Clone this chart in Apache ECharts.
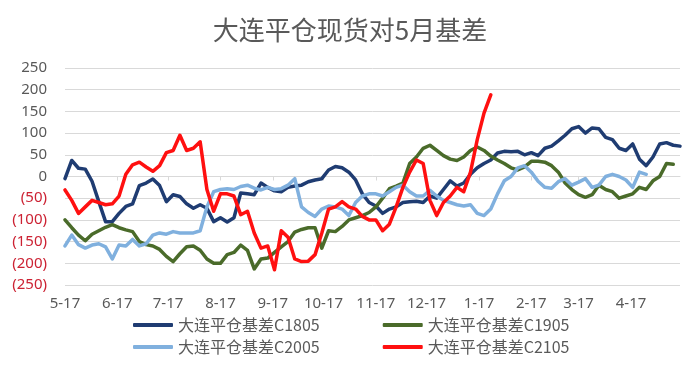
<!DOCTYPE html>
<html>
<head>
<meta charset="utf-8">
<script src="https://cdn.jsdelivr.net/npm/echarts@6/dist/echarts.min.js"></script>
<style>html,body{margin:0;padding:0;background:#fff;}#chart{width:700px;height:368px;}</style>
</head>
<body>
<div id="chart"></div>
<script>
// x grid: one reading every 4 days from 5-17 (x axis counts days since 5-17)
const stepDays = 4;
const axisDays = 364;
const xTickLabels = ['5-17','6-17','7-17','8-17','9-17','10-17','11-17','12-17','1-17','2-17','3-17','4-17'];
const seriesNames = ['大连平仓基差C1805','大连平仓基差C1905','大连平仓基差C2005','大连平仓基差C2105'];

const c1805 = [-5,37,19,17,-11,-58,-104,-104,-85,-69,-63,-21,-15,-6,-21,-58,-42,-46,-63,-73,-65,-73,-104,-95,
  -105,-95,-38,-40,-42,-15,-25,-33,-35,-25,-22,-20,-12,-8,-5,15,23,20,10,-8,-40,-60,-68,
  -85,-75,-70,-60,-58,-57,-60,-45,-50,-30,-10,-22,-15,5,20,30,38,54,58,57,58,50,55,
  48,65,70,82,95,110,115,100,112,110,90,85,65,60,75,40,25,45,75,78,72,70];
const c1905 = [-100,-118,-135,-148,-133,-125,-117,-111,-118,-123,-127,-150,-157,-160,-168,-184,-196,-178,-162,-160,-170,-190,-200,
  -200,-180,-175,-158,-170,-213,-190,-188,-175,-162,-150,-128,-122,-118,-118,-165,-125,-127,-115,-100,-95,-90,-83,
  -70,-50,-28,-22,-15,30,45,65,72,60,48,40,37,45,60,68,60,47,38,30,20,15,22,
  35,35,33,25,10,-15,-30,-42,-48,-42,-20,-30,-35,-50,-45,-40,-25,-30,-10,0,30,28,null];
const c2005 = [-160,-135,-157,-165,-158,-155,-162,-190,-158,-160,-145,-160,-155,-135,-130,-133,-127,-130,-130,-130,-125,-70,-35,
  -30,-28,-30,-23,-20,-27,-31,-25,-30,-28,-20,-5,-70,-83,-92,-75,-68,-70,-75,-90,-60,-45,-40,
  -40,-45,-35,-25,-20,-35,-45,-45,-32,-45,-55,-60,-65,-68,-65,-85,-90,-75,-40,-10,0,20,25,
  10,-11,-25,-27,-12,-5,-20,-13,-5,-25,-20,0,5,0,-8,-25,10,5,null,null,null,null,null];
const c2105 = [-31,-55,-85,-70,-55,-60,-65,-63,-45,5,27,33,22,12,25,55,60,95,60,65,80,-30,-80,
  -40,-40,-45,-88,-80,-130,-165,-160,-215,-125,-140,-190,-196,-195,-180,-130,-75,-70,-58,-70,-75,-92,-100,
  -100,-125,-110,-70,-25,10,38,30,-55,-90,-60,-45,-25,-35,10,85,146,188,null,null,null,null,null,
  null,null,null,null,null,null,null,null,null,null,null,null,null,null,null,null,null,null,null,null,null,null];

const colors = ['#1f3c72','#4a6b2a','#80b0de','#ff1010'];
const allValues = [c1805, c1905, c2005, c2105];

const DAY = 86400000;
const start = Date.UTC(2018, 4, 17);
function labelToDay(lbl) {
  const p = lbl.split('-').map(Number);
  const yr = p[0] >= 5 ? 2018 : 2019;
  return Math.round((Date.UTC(yr, p[0] - 1, p[1]) - start) / DAY);
}
const tickDays = xTickLabels.map(labelToDay);
function fmtDay(v) {
  const i = tickDays.indexOf(Math.round(v));
  return i >= 0 ? xTickLabels[i] : '';
}

const chart = echarts.init(document.getElementById('chart'), null, {renderer: 'canvas'});
const fontLat = 'Noto Sans';
const fontCJK = '"Noto Sans CJK SC", "Noto Sans", sans-serif';

chart.setOption({
  animation: false,
  backgroundColor: '#ffffff',
  title: {
    text: '大连平仓现货对5月基差',
    left: 'center',
    top: 12,
    textStyle: {fontFamily: fontCJK, fontSize: 26, fontWeight: 'normal', color: '#595959'}
  },
  legend: [
    {
      data: [seriesNames[0], seriesNames[1]],
      left: 128, top: 312,
      itemWidth: 40, itemHeight: 4, itemGap: 63,
      icon: 'roundRect',
      textStyle: {fontFamily: fontCJK, fontSize: 16, color: '#595959'}
    },
    {
      data: [seriesNames[2], seriesNames[3]],
      left: 128, top: 334,
      itemWidth: 40, itemHeight: 4, itemGap: 63,
      icon: 'roundRect',
      textStyle: {fontFamily: fontCJK, fontSize: 16, color: '#595959'}
    }
  ],
  grid: {left: 65, right: 20, top: 68, bottom: 83, containLabel: false},
  xAxis: [
    {
      type: 'value', min: 0, max: axisDays,
      position: 'bottom',
      axisLine: {show: false, onZero: false},
      axisTick: {show: false},
      splitLine: {show: false},
      axisLabel: {
        customValues: tickDays,
        formatter: fmtDay,
        fontFamily: fontLat, fontSize: 15, color: '#595959', margin: 11,
        showMinLabel: true, showMaxLabel: true, hideOverlap: false
      }
    },
    {
      type: 'value', min: 0, max: axisDays,
      position: 'bottom',
      axisLine: {show: true, onZero: true, lineStyle: {color: '#d9d9d9', width: 1}},
      axisTick: {show: true, customValues: tickDays, length: 4, lineStyle: {color: '#d9d9d9'}},
      axisLabel: {show: false},
      splitLine: {show: false}
    }
  ],
  yAxis: {
    type: 'value', min: -250, max: 250, interval: 50,
    axisLine: {show: false},
    axisTick: {show: false},
    splitLine: {show: true, lineStyle: {color: '#d9d9d9', width: 1}},
    axisLabel: {
      fontFamily: fontLat, fontSize: 15, margin: 18,
      formatter: function (v) { return v < 0 ? '(' + (-v) + ')' : String(v); },
      color: function (v) { return Number(v) < 0 ? '#cc2233' : '#595959'; }
    }
  },
  series: allValues.map(function (vals, i) {
    return {
      name: seriesNames[i],
      type: 'line',
      xAxisIndex: 0,
      showSymbol: false,
      symbol: 'none',
      connectNulls: false,
      lineStyle: {color: colors[i], width: 3.5, join: 'round', cap: 'round'},
      itemStyle: {color: colors[i]},
      data: vals.map(function (v, k) { return [k * stepDays, v]; })
    };
  })
});
</script>
</body>
</html>
